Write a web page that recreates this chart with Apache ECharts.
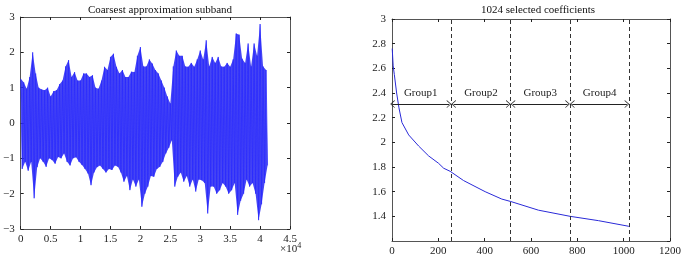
<!DOCTYPE html>
<html>
<head>
<meta charset="utf-8">
<script src="https://cdn.jsdelivr.net/npm/echarts@6/dist/echarts.min.js"></script>
<style>
  html, body { margin: 0; padding: 0; background: #fff; }
  #chart { width: 685px; height: 258px; }
</style>
</head>
<body>
<div id="chart"></div>
<script>
// left panel: signal envelope read per 500 samples (upper / lower extremes)
const sigStep = 500;
const sigHi = [1.25, 1.15, 0.97, 1.3, 2.0, 1.4, 1.0, 0.95, 0.93, 1.0,
  0.75, 0.9, 0.93, 1.1, 1.2, 1.6, 1.78, 1.3, 1.44, 1.2,
  1.2, 1.4, 1.4, 1.3, 1.35, 1.0, 0.97, 1.2, 1.59, 1.5,
  1.87, 1.96, 1.59, 1.4, 1.5, 1.3, 1.3, 1.45, 1.44, 1.9,
  2.15, 1.6, 1.6, 1.8, 1.68, 1.5, 1.4, 1.2, 1.0, 0.75,
  0.55, 1.6, 2.05, 1.9, 1.9, 1.6, 1.59, 1.7, 1.59, 1.8,
  2.05, 1.8, 2.34, 1.6, 1.87, 1.7, 1.87, 1.6, 1.59, 1.7,
  1.59, 1.8, 2.53, 2.5, 1.82, 1.7, 2.25, 1.6, 2.25, 1.9,
  2.8, 1.6, 1.5];
const sigLo = [-1.3, -1.1, -1.35, -1.1, -2.13, -1.25, -1.0, -1.1, -1.24, -1.0,
  -1.05, -1.15, -0.96, -1.0, -0.86, -1.1, -1.2, -1.0, -0.97, -1.1,
  -1.19, -1.3, -1.43, -1.76, -1.4, -1.25, -1.2, -1.3, -1.4, -1.3,
  -1.33, -1.2, -1.24, -1.4, -1.66, -1.5, -1.9, -1.6, -1.8, -1.6,
  -2.37, -2.0, -1.8, -1.5, -1.52, -1.3, -1.24, -1.1, -0.86, -0.7,
  -0.49, -1.8, -1.52, -1.4, -1.66, -1.5, -1.8, -1.6, -1.94, -1.6,
  -1.62, -1.7, -2.56, -1.8, -1.8, -2.0, -1.9, -1.7, -1.8, -2.0,
  -1.9, -1.7, -2.6, -2.2, -2.0, -1.6, -1.8, -1.7, -2.0, -2.75,
  -2.3, -1.7, -1.2];

// right panel: sorted coefficient magnitudes
const coefX = [1, 5, 10, 20, 30, 43, 72, 115, 158, 201, 223, 251, 309, 402, 474, 513, 632, 769, 891, 1020, 1024];
const coefY = [2.76, 2.62, 2.55, 2.4, 2.28, 2.16, 2.06, 1.97, 1.89, 1.83, 1.79, 1.765, 1.69, 1.60, 1.54, 1.52, 1.45, 1.40, 1.365, 1.32, 1.315];
const groupEdges = [256, 512, 768, 1024];
const groupNames = ['Group1', 'Group2', 'Group3', 'Group4'];
const arrowY = 2.31;

const sigBins = sigHi.map((v, i) => [i * sigStep, v, sigLo[i]]);
const sigLine = [];
sigHi.forEach((v, i) => {
  sigLine.push([i * sigStep, v], [i * sigStep + sigStep / 2, sigLo[i]]);
});
const coefs = coefX.map((x, i) => [x, coefY[i]]);

const font = 'Liberation Serif';
const frame = '#555';
const chevron = 'path://M5,0 L10,10 L8.8,10 L5,2.4 L1.2,10 L0,10 Z';

function mkX(grid, pos, min, max, interval, fmt) {
  return {
    type: 'value', gridIndex: grid, position: pos, min: min, max: max, interval: interval,
    axisLine: { show: true, onZero: false, lineStyle: { color: frame, width: 1 } },
    axisTick: { show: true, inside: true, length: 3, lineStyle: { color: '#222' } },
    axisLabel: { show: pos === 'bottom', color: '#222', fontFamily: font, fontSize: 11, margin: 5, formatter: fmt },
    splitLine: { show: false }
  };
}
function mkY(grid, pos, min, max, interval, fmt, hideMin) {
  return {
    type: 'value', gridIndex: grid, position: pos, min: min, max: max, interval: interval,
    axisLine: { show: true, onZero: false, lineStyle: { color: frame, width: 1 } },
    axisTick: { show: true, inside: true, length: 3, lineStyle: { color: '#222' } },
    axisLabel: { show: pos === 'left', color: '#222', fontFamily: font, fontSize: 11, margin: 6,
      formatter: fmt, showMinLabel: !hideMin },
    splitLine: { show: false }
  };
}
const minus = v => String(v).replace('-', '\u2212');

const arrows = groupEdges.map((e, i) => [
  { coord: [i === 0 ? 2 : i * 256 + 10, arrowY], name: groupNames[i] },
  { coord: [e - 10, arrowY] }
]);

// one filled polygon: upper extremes left->right, lower extremes right->left
function renderBand(params, api) {
  if (params.dataIndex !== 0) return { type: 'group', children: [] };
  const pts = [];
  sigBins.forEach(b => pts.push(api.coord([b[0], b[1]])));
  for (let i = sigBins.length - 1; i >= 0; i--) {
    pts.push(api.coord([sigBins[i][0] + sigStep / 2, sigBins[i][2]]));
  }
  return { type: 'polygon', shape: { points: pts }, style: { fill: '#2424f2', opacity: 0.85 } };
}

const chart = echarts.init(document.getElementById('chart'));
chart.setOption({
  animation: false,
  title: [
    { text: 'Coarsest approximation subband', left: 155, top: 0, textAlign: 'center',
      textStyle: { fontFamily: font, fontSize: 11, fontWeight: 'normal', color: '#111' } },
    { text: '1024 selected coefficients', left: 533, top: 0, textAlign: 'center',
      textStyle: { fontFamily: font, fontSize: 11, fontWeight: 'normal', color: '#111' } }
  ],
  grid: [
    { left: 20, top: 17, width: 270, height: 212 },
    { left: 392, top: 19, width: 278, height: 222 }
  ],
  xAxis: [
    mkX(0, 'bottom', 0, 45000, 5000, v => String(v / 10000)),
    mkX(0, 'top', 0, 45000, 5000),
    mkX(1, 'bottom', 0, 1200, 200, v => String(v)),
    mkX(1, 'top', 0, 1200, 200)
  ],
  yAxis: [
    mkY(0, 'left', -3, 3, 1, minus),
    mkY(0, 'right', -3, 3, 1),
    mkY(1, 'left', 1.2, 3, 0.2, v => String(Math.round(v * 10) / 10), true),
    mkY(1, 'right', 1.2, 3, 0.2)
  ],
  series: [
    {
      type: 'custom', xAxisIndex: 0, yAxisIndex: 0, data: sigBins,
      renderItem: renderBand
    },
    {
      type: 'line', xAxisIndex: 0, yAxisIndex: 0, data: sigLine,
      showSymbol: false, symbol: 'none',
      lineStyle: { color: '#2a2aff', width: 1, opacity: 0.7 }
    },
    {
      type: 'line', xAxisIndex: 2, yAxisIndex: 2, data: coefs,
      showSymbol: false, symbol: 'none',
      lineStyle: { color: '#2a2ad8', width: 1 },
      markLine: {
        silent: true, symbol: 'none',
        lineStyle: { color: '#333', type: [4, 3], width: 1 },
        label: { show: false },
        data: groupEdges.map(e => ({ xAxis: e }))
      }
    },
    {
      type: 'line', xAxisIndex: 2, yAxisIndex: 2, data: [],
      markLine: {
        silent: true, symbol: [chevron, chevron], symbolSize: [8, 4.5],
        lineStyle: { color: '#222', type: 'solid', width: 1 },
        label: { show: true, position: 'middle', formatter: '{b}', distance: 5,
          color: '#222', fontFamily: font, fontSize: 11 },
        data: arrows
      }
    }
  ],
  graphic: [
    { type: 'text', left: 280, top: 242,
      style: { text: '\u00d710{s|4}', fill: '#222', font: '11px ' + font,
        rich: { s: { fontSize: 8, fontFamily: font, verticalAlign: 'top', padding: [0, 0, 6, 0] } } } }
  ]
});
</script>
</body>
</html>
